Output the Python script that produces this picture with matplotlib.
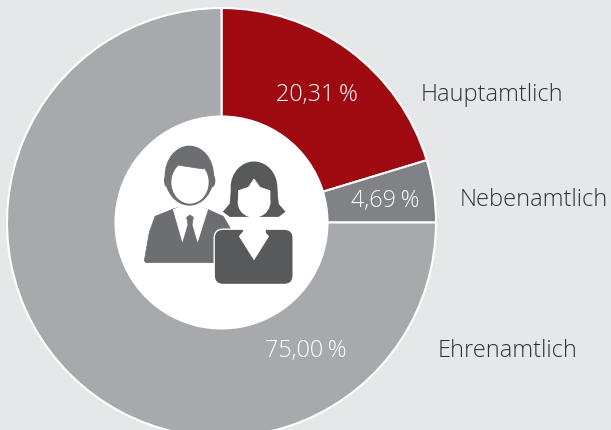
import matplotlib
matplotlib.use('Agg')
import matplotlib.pyplot as plt
from matplotlib.patches import Circle, Ellipse, FancyBboxPatch, Polygon

labels = ['Hauptamtlich', 'Nebenamtlich', 'Ehrenamtlich']
values = [20.31, 4.69, 75.00]
value_labels = ['20,31\u2009%', '4,69\u2009%', '75,00\u2009%']
colors = ['#9e0a0f', '#808285', '#a7a9ac']

BG = '#e6e7e8'
W, H = 611, 431
cx, cy = 221.5, H - 223.5
MAN = '#6d6e71'
WOMAN = '#58595b'


# icon was measured on the zoomed crop
def z(x, y):
    return (110 + x / 3, H - (120 + y / 3))


def zpoly(points, color, zorder):
    ax.add_patch(Polygon([z(x, y) for x, y in points], closed=True, fc=color, ec=color,
                         lw=0.5, joinstyle='round', zorder=zorder))


def zell(x, y, w, h, color, zorder):
    ax.add_patch(Ellipse(z(x, y), w / 3, h / 3, fc=color, ec='none', zorder=zorder))


fig = plt.figure(figsize=(W / 100, H / 100), dpi=100, facecolor=BG)
ax = fig.add_axes([0, 0, 1, 1])
ax.pie(values, colors=colors, center=(cx, cy), radius=214.5, startangle=90, counterclock=False,
       wedgeprops=dict(width=108.5, edgecolor='white', linewidth=1.5))
ax.add_patch(Circle((cx, cy), 105.5, fc='white', ec='none', zorder=3))
ax.set_xlim(0, W)
ax.set_ylim(0, H)
ax.set_aspect('equal')
ax.axis('off')

# man
zpoly([(103, 425), (118, 340), (135, 292), (190, 270), (215, 262), (265, 262), (295, 272), (340, 292),
       (362, 330), (330, 340), (312, 375), (312, 431), (108, 431)], MAN, 4)
zpoly([(190, 272), (218, 370), (232, 320), (248, 320), (262, 370), (293, 272), (240, 250)], 'white', 5)
zpoly([(230, 295), (240, 288), (250, 295), (246, 318), (262, 372), (240, 400), (218, 372), (234, 318)], MAN, 6)
zell(238, 170, 148, 180, MAN, 5)
zell(172, 185, 20, 40, MAN, 5)
zell(306, 185, 20, 40, MAN, 5)
zell(240, 190, 112, 128, 'white', 6)
zpoly([(192, 135), (215, 140), (280, 150), (290, 125), (240, 100), (192, 112)], MAN, 7)

# woman
zell(432, 205, 140, 155, WOMAN, 8)
zpoly([(365, 200), (500, 200), (505, 255), (525, 278), (505, 293), (360, 293), (340, 278), (360, 255)], WOMAN, 8)
zell(432, 250, 98, 92, 'white', 9)
zpoly([(385, 215), (415, 205), (432, 180), (450, 205), (480, 215), (480, 255), (385, 255)], 'white', 9)
ax.add_patch(FancyBboxPatch((110 + 332 / 3, H - (120 + 477 / 3)), 198 / 3, 127 / 3,
                            boxstyle='round,pad=6.5,rounding_size=9', fc=WOMAN, ec='white', lw=1.0, zorder=10))
zpoly([(388, 352), (402, 335), (460, 335), (476, 352), (432, 422)], 'white', 11)
zpoly([(400, 327), (464, 327), (464, 340), (400, 340)], 'white', 10)

value_pos = [(317, 95), (385, 201), (306, 351)]
label_pos = [(421, 95), (460, 200), (438, 351)]
font = ['Open Sans', 'DejaVu Sans']
for name, text, vp, lp in zip(labels, value_labels, value_pos, label_pos):
    ax.text(vp[0], H - vp[1], text, color='white', fontsize=16.8, fontweight='light', family=font,
            ha='center', va='center', zorder=12)
    ax.text(lp[0], H - lp[1], name, color='#333333', fontsize=17, fontweight='light', family=font,
            ha='left', va='center', zorder=12)

fig.savefig('out.png', dpi=100, facecolor=BG)
